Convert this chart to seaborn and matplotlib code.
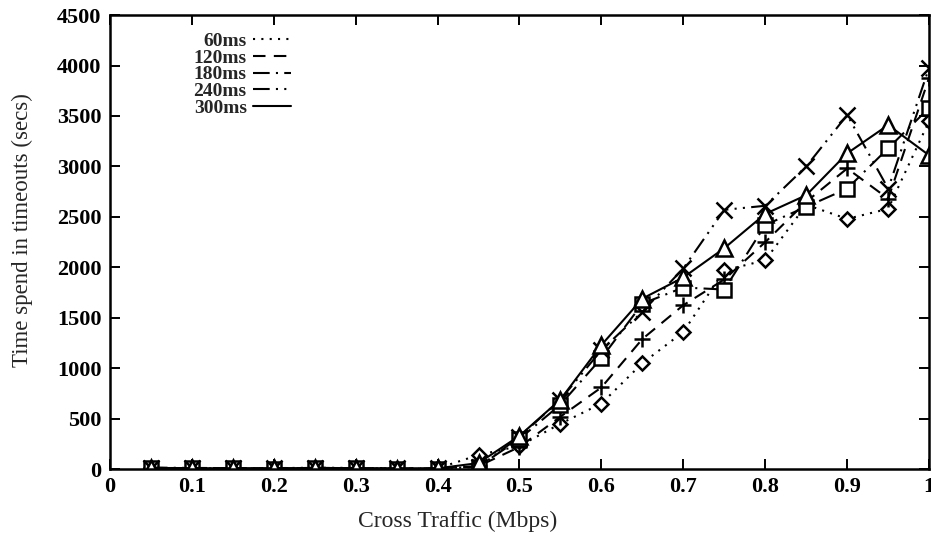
import pandas as pd
import matplotlib.pyplot as plt
import seaborn as sns
from matplotlib.lines import Line2D

sns.set_style("ticks")
plt.rcParams["font.family"] = ["Liberation Serif", "DejaVu Serif"]

# Data
cross_traffic = [0.05, 0.10, 0.15, 0.20, 0.25, 0.30, 0.35, 0.40, 0.45, 0.50,
                 0.55, 0.60, 0.65, 0.70, 0.75, 0.80, 0.85, 0.90, 0.95, 1.00]
t_60ms = [10, 8, 6, 6, 10, 8, 5, 8, 140, 230,
          450, 650, 1050, 1360, 1970, 2070, 2620, 2480, 2580, 3450]
t_120ms = [12, 10, 8, 8, 12, 10, 6, 6, 30, 220,
           520, 810, 1290, 1625, 1880, 2250, 2650, 2980, 2680, 3880]
t_180ms = [10, 8, 8, 6, 10, 8, 5, 6, 25, 300,
           640, 1100, 1640, 1800, 1780, 2420, 2600, 2780, 3180, 3580]
t_240ms = [15, 12, 10, 10, 14, 12, 8, 8, 20, 320,
           690, 1180, 1560, 1990, 2570, 2610, 3000, 3510, 2780, 3980]
t_300ms = [12, 10, 8, 8, 12, 10, 6, 8, 60, 330,
           690, 1230, 1690, 1900, 2190, 2530, 2715, 3130, 3410, 3110]

series = {
    "60ms": t_60ms,
    "120ms": t_120ms,
    "180ms": t_180ms,
    "240ms": t_240ms,
    "300ms": t_300ms,
}
dash_styles = {
    "60ms": (1, 3),
    "120ms": (6, 4),
    "180ms": (8, 3, 1, 3),
    "240ms": (8, 3, 1, 3, 1, 3),
    "300ms": (),
}
marker_styles = {
    "60ms": "D",
    "120ms": "+",
    "180ms": "s",
    "240ms": "x",
    "300ms": "^",
}
marker_sizes = {"60ms": 7.5, "120ms": 11, "180ms": 9.5, "240ms": 11, "300ms": 11}

fig = plt.figure(figsize=(9.31, 5.38), dpi=100)
ax = fig.add_axes([0.118, 0.128, 0.880, 0.844])

for name, values in series.items():
    df = pd.DataFrame({"x": cross_traffic, "y": values})
    line_ls = "-" if not dash_styles[name] else (0, dash_styles[name])
    sns.lineplot(
        data=df, x="x", y="y", ax=ax,
        color="black", linewidth=1.5, linestyle=line_ls,
        marker=marker_styles[name], markersize=marker_sizes[name],
        markerfacecolor="white", markeredgecolor="black", markeredgewidth=1.8,
        legend=False,
    )

ax.set_xlim(0, 1)
ax.set_ylim(0, 4500)
ax.set_xticks([i / 10 for i in range(11)])
ax.set_xticklabels(["0", "0.1", "0.2", "0.3", "0.4", "0.5", "0.6", "0.7", "0.8", "0.9", "1"],
                   fontweight="bold")
ax.set_yticks(range(0, 4501, 500))
ax.set_yticklabels([str(v) for v in range(0, 4501, 500)], fontweight="bold")
ax.tick_params(direction="in", length=7, width=1.4, labelsize=16,
               top=True, right=True, pad=6, colors="black")
for sp in ax.spines.values():
    sp.set_visible(True)
    sp.set_linewidth(1.8)
    sp.set_color("black")

ax.set_xlabel("Cross Traffic (Mbps)", fontsize=17)
ax.xaxis.set_label_coords(0.425, -0.092)
ax.set_ylabel("Time spend in timeouts (secs)", fontsize=16.5)
ax.yaxis.set_label_coords(-0.094, 0.526)

handles = [
    Line2D([], [], color="black", linewidth=1.5,
           linestyle="-" if not dash_styles[n] else (0, dash_styles[n]))
    for n in series
]
leg = ax.legend(handles, list(series.keys()), loc="upper right",
                bbox_to_anchor=(0.243, 1.0), frameon=False, markerfirst=False,
                handlelength=2.0, handletextpad=0.3, labelspacing=-0.05,
                prop={"size": 14, "weight": "bold"})
for t in leg.get_texts():
    t.set_ha("right")
leg._legend_box.align = "right"

fig.savefig("out.png", dpi=100)
